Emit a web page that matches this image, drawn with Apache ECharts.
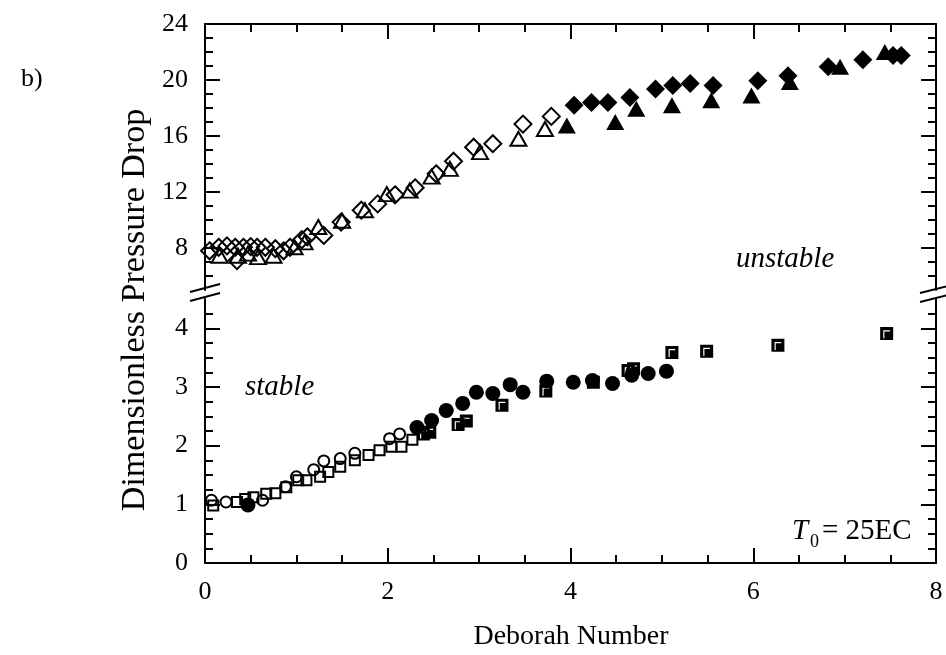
<!DOCTYPE html>
<html><head><meta charset="utf-8">
<script src="https://cdn.jsdelivr.net/npm/echarts@6/dist/echarts.min.js"></script>
<style>html,body{margin:0;padding:0;background:#fff}
#wrap{position:relative;width:946px;height:655px}
#axes,#marks{position:absolute;left:0;top:0;width:946px;height:655px}</style>
</head><body><div id="wrap"><div id="axes"></div><div id="marks"></div></div>
<script>
// ---------- data ----------
const xTickLabels = [0, 2, 4, 6, 8];
const upperTickLabels = [8, 12, 16, 20, 24];
const upperMinorTicks = [6, 7, 9, 10, 11, 13, 14, 15, 17, 18, 19, 21, 22, 23];
const lowerTickLabels = [0, 1, 2, 3, 4];
const lowerMinorTicks = [0.25, 0.5, 0.75, 1.25, 1.5, 1.75, 2.25, 2.5, 2.75, 3.25, 3.5, 3.75, 4.25];

// upper panel (unstable)
const openDiamondX = [0.05, 0.15, 0.24, 0.33, 0.35, 0.42, 0.50, 0.57, 0.66, 0.77, 0.86, 0.93, 1.06, 1.12, 1.30, 1.49, 1.71, 1.89, 2.08, 2.30, 2.53, 2.72, 2.94, 3.15, 3.48, 3.79];
const openDiamondY = [7.8, 8.05, 8.15, 8.05, 7.1, 8.05, 8.1, 8.05, 8.05, 7.95, 7.8, 8.05, 8.6, 8.8, 8.9, 9.85, 10.7, 11.15, 11.8, 12.3, 13.3, 14.2, 15.2, 15.45, 16.85, 17.4];
const openTriangleX = [0.16, 0.36, 0.47, 0.58, 0.75, 0.98, 1.09, 1.24, 1.50, 1.75, 1.99, 2.24, 2.48, 2.68, 3.01, 3.43, 3.72];
const openTriangleY = [7.45, 7.45, 7.6, 7.35, 7.45, 8.05, 8.4, 9.5, 9.95, 10.7, 11.85, 12.1, 13.1, 13.65, 14.85, 15.8, 16.5];
const filledDiamondX = [4.04, 4.23, 4.41, 4.65, 4.93, 5.12, 5.31, 5.56, 6.05, 6.38, 6.82, 7.20, 7.53, 7.62];
const filledDiamondY = [18.2, 18.4, 18.4, 18.75, 19.35, 19.6, 19.75, 19.6, 19.95, 20.3, 20.95, 21.45, 21.75, 21.75];
const filledTriangleX = [3.96, 4.49, 4.72, 5.11, 5.54, 5.98, 6.40, 6.95, 7.44];
const filledTriangleY = [16.75, 17.0, 17.95, 18.2, 18.55, 18.9, 19.85, 20.95, 22.0];

// lower panel (stable)
const openSquareX = [0.09, 0.35, 0.44, 0.53, 0.67, 0.77, 0.89, 1.02, 1.11, 1.26, 1.35, 1.48, 1.64, 1.79, 1.91, 2.04, 2.15, 2.27];
const openSquareY = [0.98, 1.04, 1.09, 1.12, 1.18, 1.19, 1.29, 1.41, 1.41, 1.47, 1.55, 1.64, 1.75, 1.84, 1.92, 1.98, 1.98, 2.10];
const openCircleX = [0.07, 0.23, 0.63, 0.88, 1.00, 1.19, 1.30, 1.48, 1.64, 2.02, 2.13];
const openCircleY = [1.07, 1.04, 1.07, 1.30, 1.47, 1.59, 1.74, 1.78, 1.87, 2.12, 2.20];
const filledCircleX = [0.47, 2.32, 2.48, 2.64, 2.82, 2.97, 3.15, 3.34, 3.48, 3.74, 4.03, 4.24, 4.46, 4.67, 4.85, 5.05];
const filledCircleY = [0.99, 2.31, 2.43, 2.60, 2.72, 2.91, 2.89, 3.04, 2.91, 3.10, 3.08, 3.11, 3.06, 3.20, 3.23, 3.27];
const filledSquareX = [2.39, 2.46, 2.77, 2.86, 3.25, 3.73, 4.25, 4.63, 4.69, 5.11, 5.49, 6.27, 7.46];
const filledSquareY = [2.20, 2.23, 2.36, 2.42, 2.69, 2.93, 3.08, 3.28, 3.31, 3.59, 3.61, 3.71, 3.91];

// ---------- shared layout ----------
const FONT = 'Liberation Serif';
const BLACK = '#000';
const zip = (xs, ys) => xs.map((x, i) => [x, ys[i]]);
const lineSt = () => ({ color: BLACK, width: 2 });
const GRIDS = [
  { left: 205, right: 10, top: 24, height: 266 },
  { left: 205, right: 10, top: 299, height: 264 }
];

function xAxisCfg(gridIndex, position, showLabel, visible) {
  return {
    type: 'value', gridIndex, position, min: 0, max: 8, interval: 2, show: visible,
    axisLine: { show: true, onZero: false, lineStyle: lineSt() },
    axisTick: { show: true, inside: true, length: 15, lineStyle: lineSt() },
    minorTick: { show: true, splitNumber: 4, length: 8, lineStyle: lineSt() },
    splitLine: { show: false }, minorSplitLine: { show: false },
    axisLabel: { show: showLabel, margin: 16, color: BLACK, fontFamily: FONT, fontSize: 26,
      customValues: xTickLabels }
  };
}
function yAxisCfg(gridIndex, position, min, max, major, showLabel, visible) {
  return {
    type: 'value', gridIndex, position, min, max, show: visible,
    axisLine: { show: true, onZero: false, lineStyle: lineSt() },
    axisTick: { show: true, inside: true, length: 15, lineStyle: lineSt(), customValues: major },
    splitLine: { show: false },
    axisLabel: { show: showLabel, margin: 17, color: BLACK, fontFamily: FONT, fontSize: 26,
      customValues: major }
  };
}
function yMinorCfg(gridIndex, position, min, max, minor) {
  return {
    type: 'value', gridIndex, position, min, max,
    axisLine: { show: false },
    axisTick: { show: true, inside: true, length: 8, lineStyle: lineSt(), customValues: minor },
    splitLine: { show: false },
    axisLabel: { show: false }
  };
}

// ---------- layer 1: frame, axes, ticks, tick labels ----------
echarts.init(document.getElementById('axes')).setOption({
  animation: false,
  backgroundColor: '#fff',
  grid: GRIDS,
  xAxis: [xAxisCfg(0, 'top', false, true), xAxisCfg(1, 'bottom', true, true)],
  yAxis: [
    yAxisCfg(0, 'left', 5, 24, upperTickLabels, true, true),
    yAxisCfg(0, 'right', 5, 24, upperTickLabels, false, true),
    yMinorCfg(0, 'left', 5, 24, upperMinorTicks),
    yMinorCfg(0, 'right', 5, 24, upperMinorTicks),
    yAxisCfg(1, 'left', 0, 4.5, lowerTickLabels, true, true),
    yAxisCfg(1, 'right', 0, 4.5, lowerTickLabels, false, true),
    yMinorCfg(1, 'left', 0, 4.5, lowerMinorTicks),
    yMinorCfg(1, 'right', 0, 4.5, lowerMinorTicks)
  ]
});

// ---------- layer 2: data marks and annotations (same scales) ----------
const openStyle = { color: 'rgba(255,255,255,0)', borderColor: BLACK, borderWidth: 2, opacity: 1 };
const filledStyle = { color: BLACK, borderWidth: 0, opacity: 1 };
const halfSquare = 'path://M0,0L10,0L10,10L0,10Z M2.4,2.4L2.4,8.6L3.3,8.6L3.3,3.3L7.6,3.3L7.6,2.4Z';

function sc(name, xs, ys, xi, yi, symbol, size, style) {
  return { type: 'scatter', name, xAxisIndex: xi, yAxisIndex: yi, data: zip(xs, ys),
    symbol, symbolSize: size, itemStyle: style, clip: false, silent: true,
    emphasis: { disabled: true } };
}

echarts.init(document.getElementById('marks')).setOption({
  animation: false,
  backgroundColor: 'transparent',
  grid: GRIDS,
  xAxis: [xAxisCfg(0, 'top', false, false), xAxisCfg(1, 'bottom', false, false)],
  yAxis: [
    yAxisCfg(0, 'left', 5, 24, upperTickLabels, false, false),
    yAxisCfg(1, 'left', 0, 4.5, lowerTickLabels, false, false)
  ],
  series: [
    sc('open diamond', openDiamondX, openDiamondY, 0, 0, 'diamond', [17, 17], openStyle),
    sc('open triangle', openTriangleX, openTriangleY, 0, 0, 'triangle', [16, 14], openStyle),
    sc('filled diamond', filledDiamondX, filledDiamondY, 0, 0, 'diamond', [19, 19], filledStyle),
    sc('filled triangle', filledTriangleX, filledTriangleY, 0, 0, 'triangle', [18, 16], filledStyle),
    sc('open square', openSquareX, openSquareY, 1, 1, 'rect', [10, 10], openStyle),
    sc('open circle', openCircleX, openCircleY, 1, 1, 'circle', 11, openStyle),
    sc('filled square', filledSquareX, filledSquareY, 1, 1, halfSquare, [13, 13], filledStyle),
    sc('filled circle', filledCircleX, filledCircleY, 1, 1, 'circle', 15, filledStyle)
  ],
  graphic: [
    { type: 'line', shape: { x1: 190, y1: 292, x2: 220, y2: 284 }, style: { stroke: BLACK, lineWidth: 2 } },
    { type: 'line', shape: { x1: 190, y1: 301, x2: 220, y2: 293 }, style: { stroke: BLACK, lineWidth: 2 } },
    { type: 'line', shape: { x1: 920, y1: 293, x2: 952, y2: 285 }, style: { stroke: BLACK, lineWidth: 2 } },
    { type: 'line', shape: { x1: 920, y1: 302, x2: 952, y2: 294 }, style: { stroke: BLACK, lineWidth: 2 } },
    { type: 'text', x: 21, y: 79, style: { text: 'b)', fontFamily: FONT, fontSize: 26, fill: BLACK, align: 'left', verticalAlign: 'middle' } },
    { type: 'text', x: 135, y: 310, rotation: Math.PI / 2, style: { text: 'Dimensionless Pressure Drop', fontFamily: FONT, fontSize: 34, fill: BLACK, align: 'center', verticalAlign: 'middle' } },
    { type: 'text', x: 571, y: 637, style: { text: 'Deborah Number', fontFamily: FONT, fontSize: 28, fill: BLACK, align: 'center', verticalAlign: 'middle' } },
    { type: 'text', x: 736, y: 259, style: { text: 'unstable', fontFamily: FONT, fontStyle: 'italic', fontSize: 29, fill: BLACK, align: 'left', verticalAlign: 'middle' } },
    { type: 'text', x: 245, y: 387, style: { text: 'stable', fontFamily: FONT, fontStyle: 'italic', fontSize: 29, fill: BLACK, align: 'left', verticalAlign: 'middle' } },
    { type: 'text', x: 792, y: 531, style: { text: 'T', fontFamily: FONT, fontStyle: 'italic', fontSize: 29, fill: BLACK, align: 'left', verticalAlign: 'middle' } },
    { type: 'text', x: 810, y: 542, style: { text: '0', fontFamily: FONT, fontSize: 18, fill: BLACK, align: 'left', verticalAlign: 'middle' } },
    { type: 'text', x: 822, y: 531, style: { text: '= 25EC', fontFamily: FONT, fontSize: 29, fill: BLACK, align: 'left', verticalAlign: 'middle' } }
  ]
});
</script>
</body></html>
